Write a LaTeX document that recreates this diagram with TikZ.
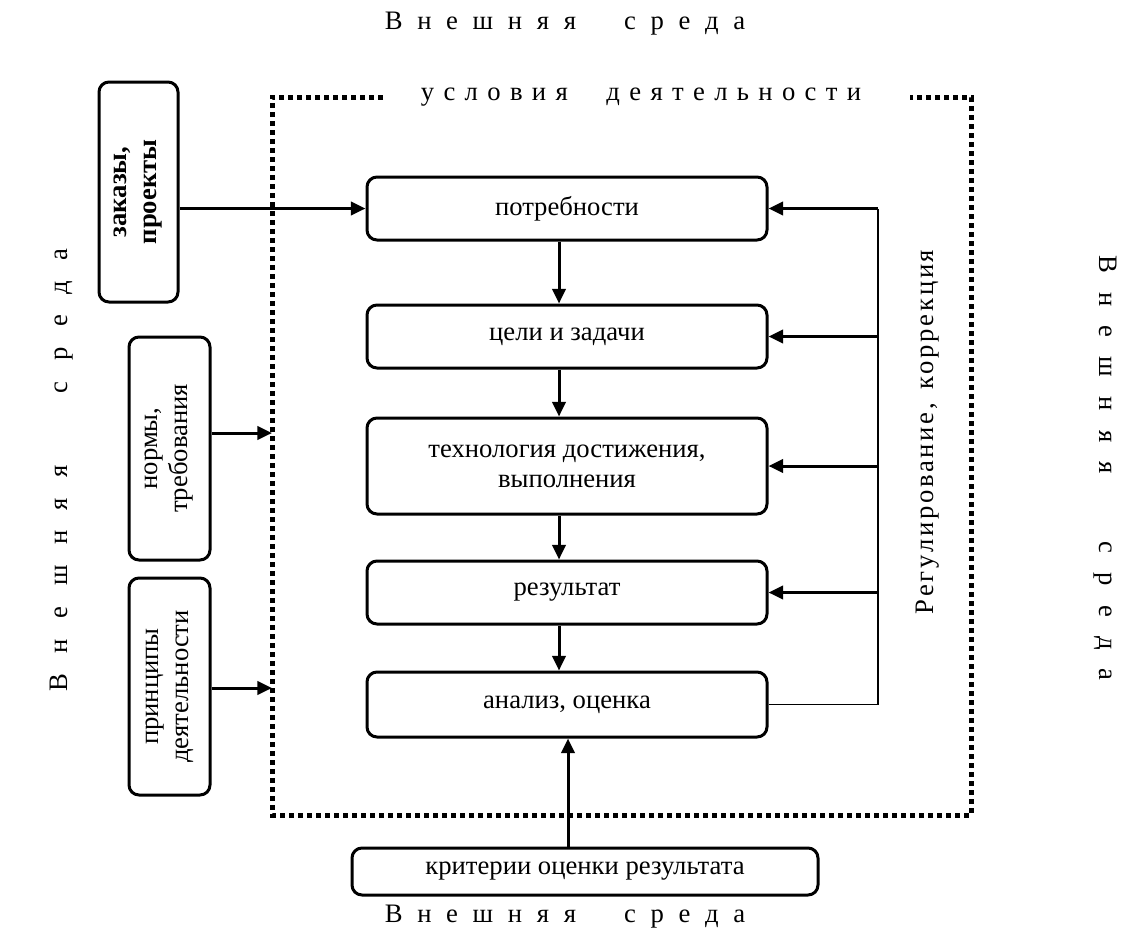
\documentclass[tikz,border=0pt]{standalone}
\usepackage{fontspec}
\setmainfont{Liberation Serif}
\usetikzlibrary{arrows.meta}
\makeatletter
\newcommand\spreadout[2]{\begingroup\@tfor\spr@ch:=#2\do{\spr@ch\hspace{#1}}\unskip\endgroup}
\makeatother
\newcommand\fs{\fontsize{20}{22.5}\selectfont}
\begin{document}
\begin{tikzpicture}[x=0.75pt,y=-0.75pt,
  box/.style={draw, line width=2.25pt, rounded corners=7.5pt, align=center, font=\fs, inner sep=0pt},
  arr/.style={line width=2.25pt, -{Triangle[length=11pt,width=10pt]}},
  dotframe/.style={line width=3.75pt, dash pattern=on 3.75pt off 3pt},
  fbline/.style={line width=1.5pt},
  thinline/.style={line width=1.1pt},
  lbl/.style={font=\fs, inner sep=0pt}]
\useasboundingbox (0,0) rectangle (1125,947);
% outer labels
\node[lbl] (top) at (565,24) {\spreadout{0.55em}{Внешняя{\hspace{0.7em}}среда}};
\node[lbl] (bot) at (565,917) {\spreadout{0.55em}{Внешняя{\hspace{0.7em}}среда}};
\node[lbl, rotate=90] (lft) at (62,470) {\spreadout{0.77em}{Внешняя{\hspace{1.15em}}среда}};
\node[lbl, rotate=-90] (rgt) at (1105,468) {\spreadout{0.72em}{Внешняя{\hspace{1.1em}}среда}};
\node[lbl] (usl) at (641,97) {\spreadout{0.35em}{условия{\hspace{0.75em}}деятельности}};
\node[lbl, rotate=90] (reg) at (928,432) {\spreadout{0.1em}{Регулирование,{\hspace{0.3em}}коррекция}};
% dotted frame
\draw[dotframe] (383,97) -- (272,97) -- (272,815) -- (971,815) -- (971,97) -- (910,97);
% central boxes
\node[box, minimum width=300pt, minimum height=47.25pt] (p) at (567,208.5) {потребности};
\node[box, minimum width=300pt, minimum height=47.25pt] (c) at (567,336.5) {цели и задачи};
\node[box, minimum width=300pt, minimum height=72pt] (t) at (567,466) {технология достижения,\\выполнения};
\node[box, minimum width=300pt, minimum height=47.25pt] (r) at (567,592.5) {результат};
\node[box, minimum width=300pt, minimum height=48.75pt] (a) at (567,704.5) {анализ, оценка};
\node[box, minimum width=349.5pt, minimum height=35.25pt] (k) at (585,871.5) {критерии оценки результата};
% left boxes
\node[box, rotate=90, minimum width=165pt, minimum height=59.25pt, font=\fs\bfseries] (z) at (138.5,192) {заказы,\\проекты};
\node[box, rotate=90, minimum width=167.25pt, minimum height=60.75pt] (n) at (169.5,448.5) {нормы,\\требования};
\node[box, rotate=90, minimum width=162.75pt, minimum height=60.75pt] (pr) at (169.5,686.5) {принципы\\деятельности};
% frame targets
\coordinate (fn) at (272,433);
\coordinate (fp) at (272,688);
% left arrows
\draw[arr] (z.south |- p.west) -- (p.west);
\draw[arr] (n.south |- fn) -- (fn);
\draw[arr] (pr.south |- fp) -- (fp);
% chain arrows
\draw[arr] ([xshift=-6pt]p.south) -- ([xshift=-6pt]c.north);
\draw[arr] ([xshift=-6pt]c.south) -- ([xshift=-6pt]t.north);
\draw[arr] ([xshift=-6pt]t.south) -- ([xshift=-6pt]r.north);
\draw[arr] ([xshift=-6pt]r.south) -- ([xshift=-6pt]a.north);
\draw[arr] ([xshift=0.75pt]a.south |- k.north) -- ([xshift=0.75pt]a.south);
% feedback
\coordinate (fbt) at (878,208.5);
\draw[thinline] (a.east) -- (a.east -| fbt);
\draw[fbline] (a.east -| fbt) -- (fbt);
\draw[arr] (fbt) -- (p.east);
\draw[arr] (fbt |- c.east) -- (c.east);
\draw[arr] (fbt |- t.east) -- (t.east);
\draw[arr] (fbt |- r.east) -- (r.east);
\end{tikzpicture}
\end{document}
